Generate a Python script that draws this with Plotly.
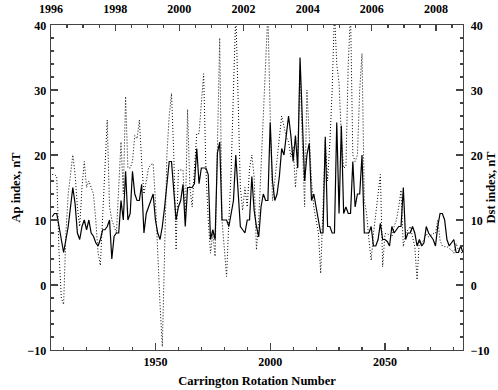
import plotly.graph_objects as go

cr_start = 1905
ap = [10.5, 11, 11, 9, 7, 5, 7, 9, 12, 15, 12.5, 8, 7, 9, 10, 8.5, 10, 8, 7.5, 6.5,
      6, 7, 8.5, 8.5, 9, 10, 4, 7.5, 8, 8, 13, 10, 17.5, 10, 11, 17.5, 14, 13, 13, 15.5,
      8, 11, 12, 13, 14, 10, 8, 7, 9, 12, 15, 19, 19, 14, 10, 12, 13, 15.5, 9, 15,
      15, 15, 15.6, 21, 15.6, 18, 18, 18, 17, 7, 8.5, 7, 20.3, 22, 10, 10, 10, 9, 11, 13,
      20, 14, 9, 8.5, 8, 10, 10, 16.7, 11.5, 9, 7.4, 12, 14, 13, 13, 25, 16, 13, 14, 16.7,
      21, 20, 23, 26, 23, 19, 23, 18, 35, 26, 16, 20, 21.8, 13, 14, 12, 10, 8, 8, 22.8,
      9, 9, 8, 8, 25, 11, 24.5, 11, 12, 11, 11, 19, 12, 14, 14, 20, 8, 8, 8, 9,
      6, 6, 7, 9.5, 7, 7, 6.7, 6, 9, 8, 8.5, 9, 9, 15, 7, 8, 8, 9, 8, 6,
      7, 6, 6.5, 9, 8, 7.5, 7, 6, 9, 11, 11, 10, 7, 6, 6.5, 7, 5, 5, 6, 5]
dst = [17, 17, 16.7, 5, -2, -3, 8, 14, 17, 20, 17, 12, 9, 15, 19, 15, 16, 15, 14, 10,
       5, 3, 10, 18, 25.4, 12, 10, 9, 8, 15, 22, 14, 29, 18, 18, 19, 23, 22.5, 25.4, 19,
       14, 16, 18, 18.5, 18.7, 13, 4, -3, -9.5, 5, 20, 26, 29.5, 20, 5.4, 17.7, 17.7, 17.7, 10, 27,
       15, 12, 18, 23.3, 23.3, 28, 32.5, 17.7, 10, 4.9, 8, 4.4, 20.3, 38, 10, 6, 1.3, 10, 17.7, 30,
       42, 29, 15, 11.5, 15, 12, 18, 20, 16.7, 5.4, 10, 18, 25, 34, 42, 26, 13, 16, 19, 23,
       26, 24.4, 22.8, 22, 19.7, 21.3, 15, 20, 33, 22, 12, 30, 22, 16, 12, 10, 8, 1.8, 12, 22,
       16, 22, 30, 42, 34, 31, 23, 18, 18.2, 34, 42, 20, 19, 20, 30, 35.6, 13, 11, 7, 3.8,
       7.9, 11, 14, 17, 2.8, 7.9, 7.9, 7.6, 7.4, 9, 10, 12, 14.6, 5.9, 7.9, 8.5, 9, 7.4, 5.9, 0.8,
       6.9, 6.4, 7, 7.9, 7.4, 7.6, 7.9, 7.9, 10, 6.9, 6, 5.9, 5.9, 5.6, 5.4, 4.9, 6.4, 5.4, 5, 4.9]
cr = list(range(cr_start, cr_start + len(ap)))

year_ticks = [1996, 1998, 2000, 2002, 2004, 2006, 2008]
year_range = [1996, 2008.84]
cr_ticks = [1950, 2000, 2050]
y_ticks = [-10, 0, 10, 20, 30, 40]

FONT = "Liberation Serif"
AX = "#444444"

fig = go.Figure()
fig.add_trace(go.Scatter(x=cr, y=dst, mode="lines", yaxis="y2",
                         line=dict(color="black", width=1, dash="1px,2px"),
                         hoverinfo="skip", showlegend=False))
fig.add_trace(go.Scatter(x=cr, y=ap, mode="lines",
                         line=dict(color="black", width=1.2),
                         hoverinfo="skip", showlegend=False))
for xa in ("x2", "x3"):
    fig.add_trace(go.Scatter(x=[year_ticks[0], year_ticks[-1]], y=[-50, -50], xaxis=xa,
                             mode="markers", marker=dict(opacity=0),
                             hoverinfo="skip", showlegend=False))

tickfont = dict(family=FONT, size=12, color="black", weight="bold")
common = dict(showgrid=False, zeroline=False, showline=True, linecolor=AX, linewidth=1.3,
              ticks="inside", tickcolor=AX, tickwidth=1.2, automargin=False,
              tickfont=tickfont)
tfont = dict(family=FONT, size=12.5, color="black", weight="bold")

TOP = 15
plot_h = 390 - TOP - 40
ydom = [0, 325 / plot_h]

fig.update_layout(
    template="none",
    width=498, height=390,
    margin=dict(l=51, r=35, t=TOP, b=40),
    paper_bgcolor="white", plot_bgcolor="white",
    hovermode=False,
    xaxis=dict(range=[1904.5, 2084], tickvals=cr_ticks, ticklen=7,
               minor=dict(dtick=10, tick0=1900, ticks="inside", ticklen=3, tickcolor=AX),
               title=dict(text="Carrington Rotation Number", standoff=8, font=tfont),
               **common),
    xaxis2=dict(range=year_range, overlaying="x", side="top", anchor="y", tickvals=year_ticks,
                ticklen=6, showticklabels=False,
                minor=dict(dtick=0.5, tick0=1996, ticks="inside", ticklen=3, tickcolor=AX),
                **common),
    xaxis3=dict(range=year_range, overlaying="x", side="top", anchor="free", position=1,
                tickvals=year_ticks, showline=False, ticks="", ticklen=0, showgrid=False,
                zeroline=False, automargin=False, ticklabelstandoff=0, tickfont=tickfont),
    yaxis=dict(domain=ydom, range=[-10, 40], tickvals=y_ticks, ticklen=7, ticklabelstandoff=1,
               ticklabelshift=1,
               minor=dict(dtick=2, tick0=0, ticks="inside", ticklen=3, tickcolor=AX),
               title=dict(text="Ap index, nT", standoff=4, font=tfont),
               **common),
    yaxis2=dict(domain=ydom, range=[-10, 40], overlaying="y", side="right", tickvals=y_ticks,
                ticklen=7, ticklabelstandoff=4, ticklabelshift=1,
                minor=dict(dtick=2, tick0=0, ticks="inside", ticklen=3, tickcolor=AX),
                title=dict(text="Dst index, nT", standoff=6, font=tfont),
                **common),
)

fig.write_html("out.html", config={"displayModeBar": False, "staticPlot": True},
               post_script="document.body.style.margin='0';document.body.style.overflow='hidden';")
